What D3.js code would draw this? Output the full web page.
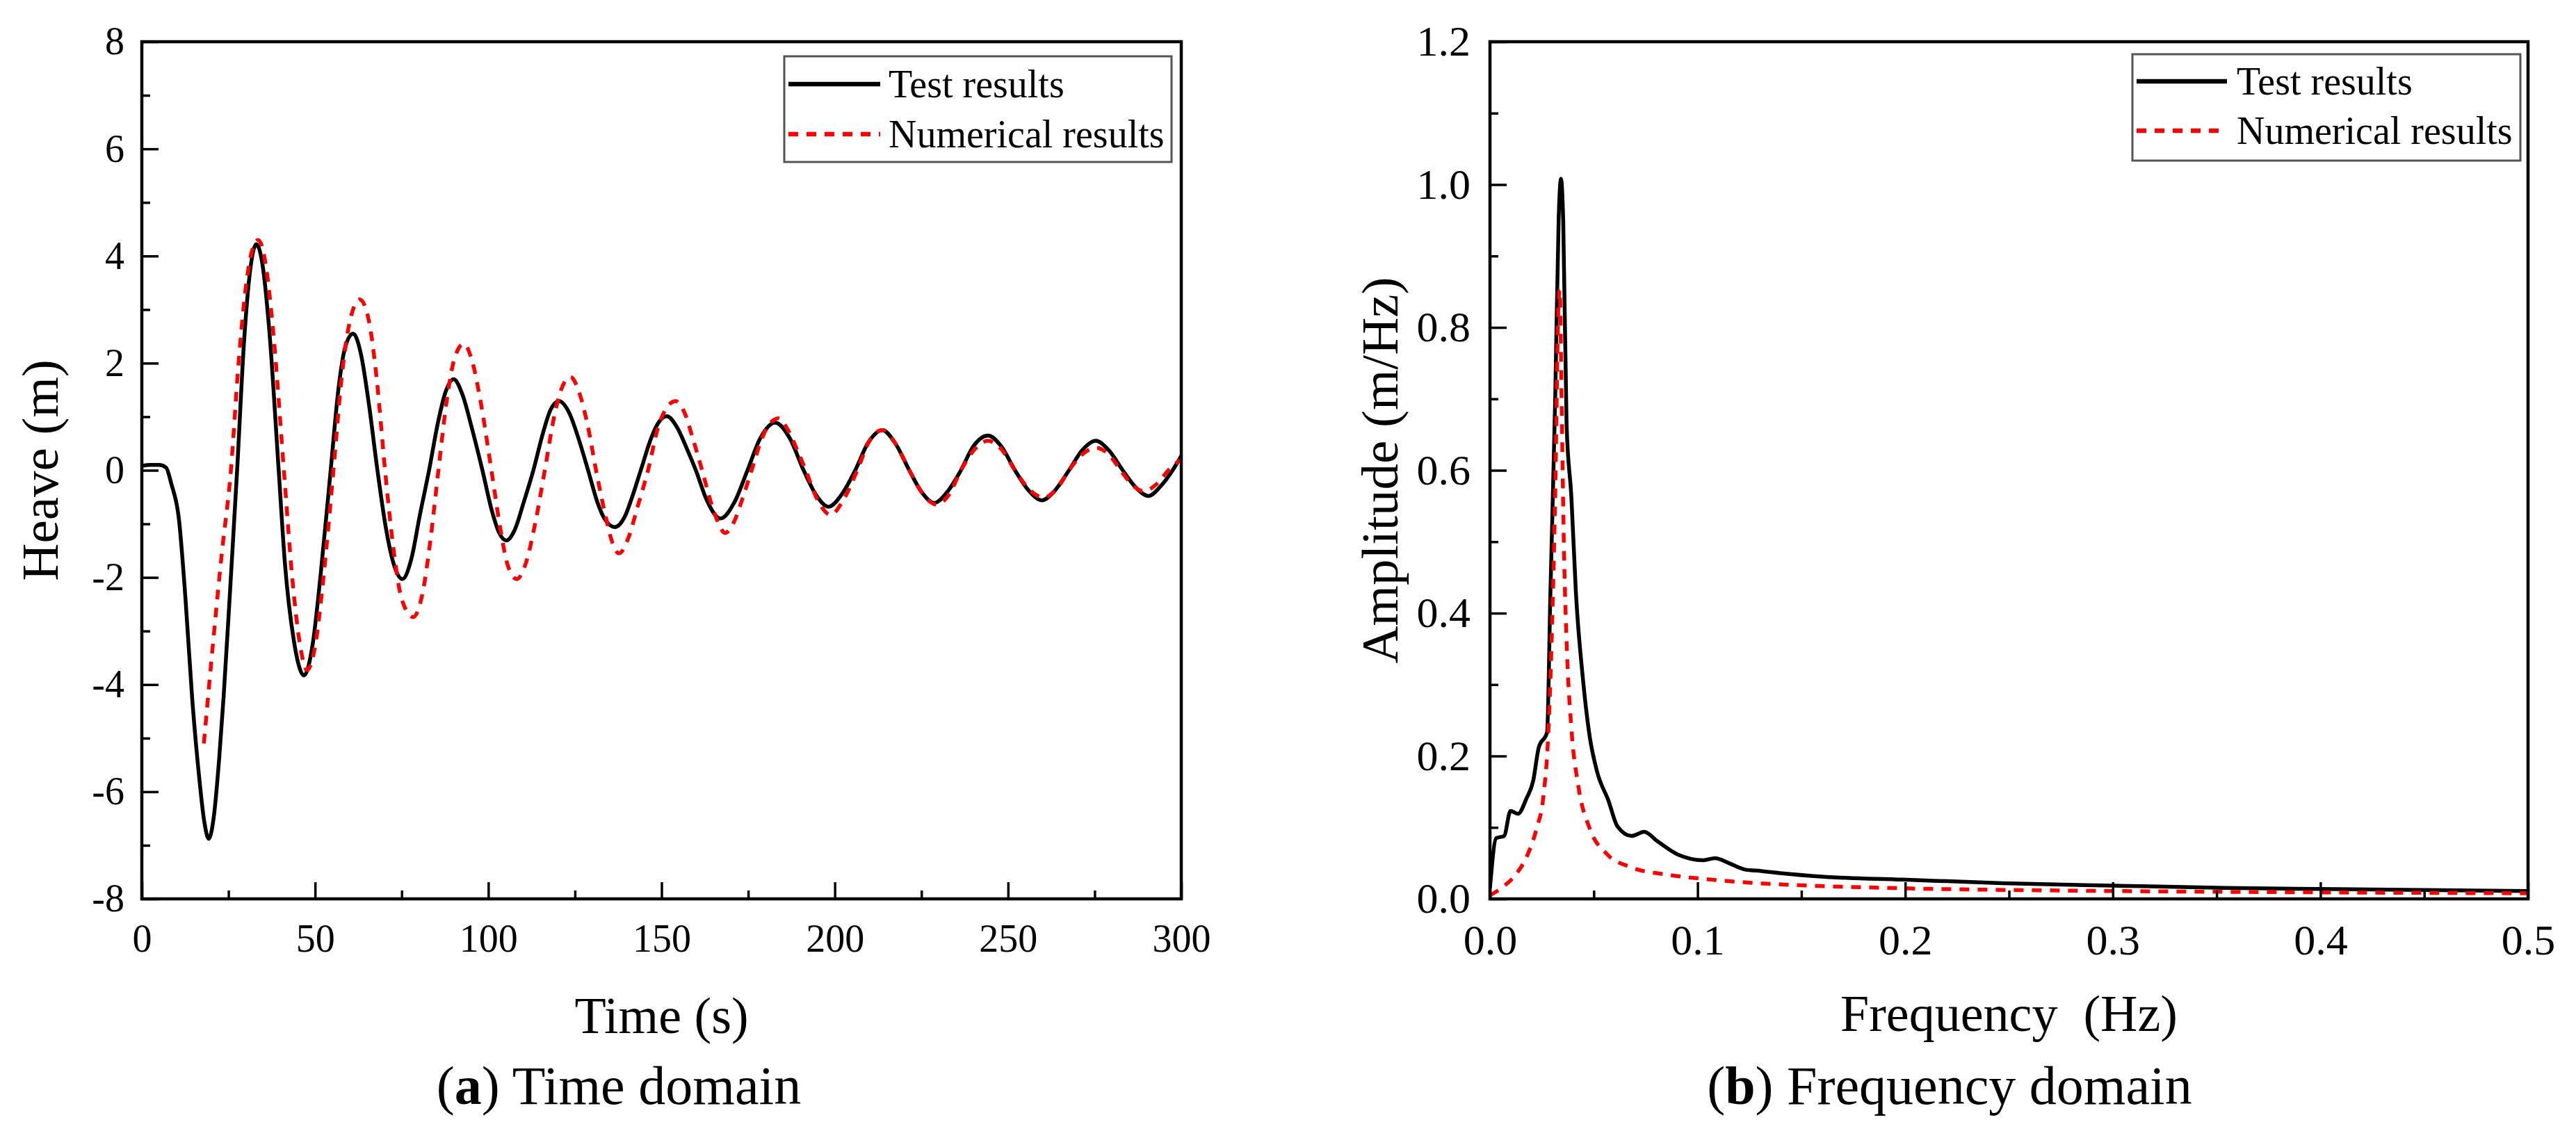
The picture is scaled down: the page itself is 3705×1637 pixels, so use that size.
<!DOCTYPE html>
<html lang="en">
<head>
<meta charset="UTF-8">
<title>Heave decay: time and frequency domain</title>
<style>
  body { margin: 0; background: #fff; }
  svg { display: block; font-family: 'Liberation Serif', 'Times New Roman', serif; }
  .tick line { stroke: #000; stroke-width: 3.5; }
  .tick text { fill: #000; }
</style>
</head>
<body>
<svg id="chart" width="3705" height="1637"></svg>
<script src="https://d3js.org/d3.v7.min.js"></script>
<script>
// ---- data ----
// (a) heave time history: [time (s), heave (m)]
const testHeave = [
  [0,0.08],[2.5,0.1],[5,0.1],[7,0.05],[8.5,-0.25],[10.7,-0.91],[12.6,-2.4],[14.5,-4.23],[16.5,-5.7],
  [18,-6.55],[19.3,-6.88],[20.8,-6.45],[22.3,-5.4],[23.6,-4.23],[25.6,-2.1],[27.5,0],[29.5,2.4],
  [31.3,3.75],[33,4.22],[34.8,3.85],[36.8,2.6],[39.5,0],[41.3,-1.74],[43.8,-3.15],[46.8,-3.83],
  [49.3,-3.25],[51.6,-1.95],[54.5,0],[56.8,1.55],[58.7,2.3],[61,2.55],[63.3,2.15],[65.5,1.25],
  [68,0],[70.5,-1.1],[72.7,-1.75],[75.2,-2.03],[77.8,-1.65],[80.2,-0.85],[82.9,0],[85.5,0.9],
  [87.6,1.45],[90,1.7],[92.5,1.42],[95.2,0.8],[98.3,0],[101,-0.75],[103,-1.15],[105.2,-1.31],
  [107.7,-1.1],[110.2,-0.6],[113,0],[115.8,0.7],[117.9,1.12],[120.4,1.29],[123.5,1.05],[126,0.6],
  [128.8,0],[131.5,-0.6],[133.5,-0.9],[136.5,-1.06],[139.5,-0.85],[141.5,-0.5],[144,0],[147,0.6],
  [149,0.88],[151.5,1.01],[154.5,0.8],[157,0.45],[159.9,0],[163,-0.55],[167,-0.9],[171,-0.6],
  [174.8,0],[178.5,0.6],[182.8,0.89],[187,0.6],[191,0],[194.5,-0.45],[198.2,-0.68],[202,-0.45],
  [205.9,0],[209.5,0.5],[213.7,0.75],[217.5,0.5],[221.5,0],[225,-0.4],[228.7,-0.61],[232.5,-0.4],
  [236.4,0],[240,0.45],[244.2,0.65],[248,0.45],[252,0],[256,-0.38],[259.8,-0.56],[263.5,-0.38],
  [267.6,0],[271.5,0.38],[275.3,0.55],[279,0.38],[283.1,0],[287,-0.33],[290.5,-0.48],[294,-0.3],
  [297.5,0],[300,0.27]
];
const numHeave = [
  [17.9,-5.1],[20.3,-3.4],[23,-1.6],[25.7,0],[27.8,1.9],[29.8,3.3],[31.8,4.1],[33.6,4.3],[35.6,3.9],
  [37.9,2.6],[41,0],[43.4,-2.0],[45.4,-3.15],[47.7,-3.73],[50.1,-3.25],[52.5,-1.95],[55.3,0],
  [57.7,1.75],[60.1,2.8],[62.9,3.19],[65.5,2.8],[67.8,1.7],[70.2,0],[72.5,-1.4],[75,-2.4],
  [78.3,-2.74],[81,-2.3],[83.3,-1.3],[85.6,0],[88,1.3],[90.3,2.1],[92.9,2.36],[95.5,2.0],[98,1.2],
  [100.9,0],[103.5,-1.1],[105.5,-1.75],[108.2,-2.03],[111,-1.7],[113.5,-1.0],[116.3,0],[119,1.0],
  [121,1.5],[123.7,1.74],[126.5,1.4],[128.8,0.8],[131.1,0],[134,-0.9],[135.8,-1.35],[137.7,-1.55],
  [140.5,-1.25],[143,-0.7],[146.1,0],[149,0.8],[151.3,1.15],[154.1,1.29],[156.8,1.05],[159,0.6],
  [161.7,0],[164.5,-0.65],[166.5,-1.0],[168.3,-1.17],[171,-0.95],[173.5,-0.5],[176,0],[179,0.6],
  [181,0.85],[183.8,0.97],[186.5,0.75],[189,0.4],[191.6,0],[195,-0.55],[198.8,-0.83],[202.5,-0.55],
  [206.5,0],[210,0.55],[213.7,0.75],[217.5,0.5],[221.5,0],[225.5,-0.45],[229.3,-0.64],[233,-0.45],
  [236.4,0],[240.5,0.4],[244.2,0.55],[248,0.4],[252,0],[256,-0.35],[260.4,-0.51],[264,-0.35],
  [267.6,0],[271.5,0.3],[275.3,0.42],[279,0.3],[282.5,0],[286,-0.28],[289.1,-0.39],[293,-0.25],
  [296.3,0],[300,0.21]
];

// (b) amplitude spectrum: [frequency (Hz), amplitude (m/Hz)]
const testSpectrum = [
  [0,0.015],[0.003,0.085],[0.0068,0.088],[0.0099,0.123],[0.0135,0.119],[0.0175,0.14],[0.0208,0.165],
  [0.0235,0.212],[0.0275,0.233],[0.0291,0.428],[0.0314,0.698],[0.0331,0.954],[0.0342,1.008],
  [0.0353,0.947],[0.0369,0.664],[0.0392,0.563],[0.0414,0.428],[0.0448,0.307],[0.0481,0.226],
  [0.0515,0.179],[0.057,0.138],[0.0615,0.101],[0.0682,0.088],[0.0743,0.094],[0.0805,0.081],
  [0.0905,0.062],[0.1028,0.054],[0.1084,0.057],[0.1151,0.05],[0.1229,0.041],[0.1307,0.039],
  [0.1397,0.036],[0.161,0.031],[0.1988,0.027],[0.247,0.022],[0.3007,0.0185],[0.3543,0.0153],
  [0.408,0.0136],[0.5,0.011]
];
const numSpectrum = [
  [0,0.005],[0.0068,0.018],[0.0124,0.034],[0.018,0.061],[0.0224,0.098],[0.0258,0.145],[0.028,0.226],
  [0.0297,0.361],[0.0314,0.563],[0.033,0.832],[0.0336,0.853],[0.0345,0.698],[0.0356,0.495],
  [0.0369,0.361],[0.0392,0.239],[0.0425,0.159],[0.0481,0.098],[0.0559,0.064],[0.0682,0.044],
  [0.085,0.034],[0.1027,0.028],[0.135,0.021],[0.15,0.019],[0.196,0.015],[0.274,0.0117],
  [0.381,0.0094],[0.5,0.0078]
];

const timeTicks = [0, 50, 100, 150, 200, 250, 300];
const timeMinor = [25, 75, 125, 175, 225, 275];
const heaveTicks = [-8, -6, -4, -2, 0, 2, 4, 6, 8];
const heaveMinor = [-7, -5, -3, -1, 1, 3, 5, 7];
const freqTicks = [0, 0.1, 0.2, 0.3, 0.4, 0.5];
const freqMinor = [0.05, 0.15, 0.25, 0.35, 0.45];
const ampTicks = [0, 0.2, 0.4, 0.6, 0.8, 1.0, 1.2];
const ampMinor = [0.1, 0.3, 0.5, 0.7, 0.9, 1.1];

const seriesNames = ["Test results", "Numerical results"];

// ---- drawing ----
const svg = d3.select("#chart");
svg.append("rect").attr("width", 3705).attr("height", 1637).attr("fill", "#fff");

const styles = [
  { color: "#000", dash: null },
  { color: "#ff0000", dash: "14,12" }
];

function panel(p) {
  const x = d3.scaleLinear().domain(p.xDomain).range([p.left, p.right]);
  const y = d3.scaleLinear().domain(p.yDomain).range([p.bottom, p.top]);
  const g = svg.append("g");

  g.append("clipPath").attr("id", "clip-" + p.id)
    .append("rect")
    .attr("x", p.left).attr("y", p.top)
    .attr("width", p.right - p.left).attr("height", p.bottom - p.top);

  const line = d3.line().x(d => x(d[0])).y(d => y(d[1])).curve(d3.curveMonotoneX);

  const lines = g.append("g").attr("clip-path", `url(#clip-${p.id})`);
  p.series.forEach((s, i) => {
    lines.append("path")
      .datum(s)
      .attr("d", line)
      .attr("fill", "none")
      .attr("stroke", styles[i].color)
      .attr("stroke-width", 5.5)
      .attr("stroke-linejoin", "round")
      .attr("stroke-dasharray", styles[i].dash);
  });

  // minor ticks (inward)
  g.append("g").attr("transform", `translate(0,${p.bottom})`)
    .call(d3.axisBottom(x).tickValues(p.xMinor).tickSize(-12).tickFormat(""))
    .call(a => a.select(".domain").remove());
  g.append("g").attr("transform", `translate(${p.left},0)`)
    .call(d3.axisLeft(y).tickValues(p.yMinor).tickSize(-12).tickFormat(""))
    .call(a => a.select(".domain").remove());

  // major ticks + labels
  g.append("g").attr("transform", `translate(0,${p.bottom})`)
    .call(d3.axisBottom(x).tickValues(p.xTicks).tickSize(-24).tickPadding(36).tickFormat(p.xFmt))
    .call(a => a.select(".domain").remove())
    .attr("font-family", null)
    .attr("font-size", p.tickFont);
  g.append("g").attr("transform", `translate(${p.left},0)`)
    .call(d3.axisLeft(y).tickValues(p.yTicks).tickSize(-24).tickPadding(p.yPad).tickFormat(p.yFmt))
    .call(a => a.select(".domain").remove())
    .attr("font-family", null)
    .attr("font-size", p.tickFont);

  // frame
  g.append("rect")
    .attr("x", p.left).attr("y", p.top)
    .attr("width", p.right - p.left).attr("height", p.bottom - p.top)
    .attr("fill", "none").attr("stroke", "#000").attr("stroke-width", 4.5);

  // legend
  const L = p.legend;
  g.append("rect")
    .attr("x", L.x).attr("y", L.y).attr("width", L.w).attr("height", L.h)
    .attr("fill", "#fff").attr("stroke", "#555").attr("stroke-width", 3);
  seriesNames.forEach((name, i) => {
    const ly = L.y + L.rowY[i];
    g.append("line")
      .attr("x1", L.x + 6).attr("x2", L.x + 6 + L.sample)
      .attr("y1", ly).attr("y2", ly)
      .attr("stroke", styles[i].color).attr("stroke-width", 6.5)
      .attr("stroke-dasharray", styles[i].dash);
    g.append("text")
      .attr("x", L.x + L.textX).attr("y", ly + 19)
      .attr("font-size", 56)
      .text(name);
  });

  // axis titles
  g.append("text")
    .attr("x", (p.left + p.right) / 2).attr("y", p.xTitleY)
    .attr("text-anchor", "middle").attr("font-size", 74)
    .style("white-space", "pre")
    .text(p.xTitle);
  g.append("text")
    .attr("transform", `translate(${p.yTitleX},${(p.top + p.bottom) / 2}) rotate(-90)`)
    .attr("text-anchor", "middle").attr("font-size", 75)
    .text(p.yTitle);

  // caption
  const cap = g.append("text")
    .attr("x", p.capX).attr("y", 1588)
    .attr("text-anchor", "middle").attr("font-size", 78);
  cap.append("tspan").text("(");
  cap.append("tspan").attr("font-weight", "bold").text(p.capLetter);
  cap.append("tspan").text(") " + p.capText);
}

const intFmt = d => String(d);
const oneDec = d3.format(".1f");

panel({
  id: "time", left: 204, right: 1699, top: 60, bottom: 1293,
  xDomain: [0, 300], yDomain: [-8, 8],
  xTicks: timeTicks, xMinor: timeMinor, yTicks: heaveTicks, yMinor: heaveMinor,
  xFmt: intFmt, yFmt: intFmt, tickFont: 56, yPad: 25,
  series: [testHeave, numHeave],
  legend: { x: 1128, y: 81, w: 557, h: 152, rowY: [40, 112], sample: 132, textX: 150 },
  xTitle: "Time (s)", xTitleY: 1486,
  yTitle: "Heave (m)", yTitleX: 83,
  capX: 890, capLetter: "a", capText: "Time domain"
});

panel({
  id: "freq", left: 2143, right: 3636, top: 60, bottom: 1293,
  xDomain: [0, 0.5], yDomain: [0, 1.2],
  xTicks: freqTicks, xMinor: freqMinor, yTicks: ampTicks, yMinor: ampMinor,
  xFmt: oneDec, yFmt: oneDec, tickFont: 62, yPad: 28,
  series: [testSpectrum, numSpectrum],
  legend: { x: 3067, y: 78, w: 558, h: 153, rowY: [39, 110], sample: 130, textX: 150 },
  xTitle: "Frequency  (Hz)", xTitleY: 1483,
  yTitle: "Amplitude (m/Hz)", yTitleX: 2010,
  capX: 2804, capLetter: "b", capText: "Frequency domain"
});
</script>
</body>
</html>
